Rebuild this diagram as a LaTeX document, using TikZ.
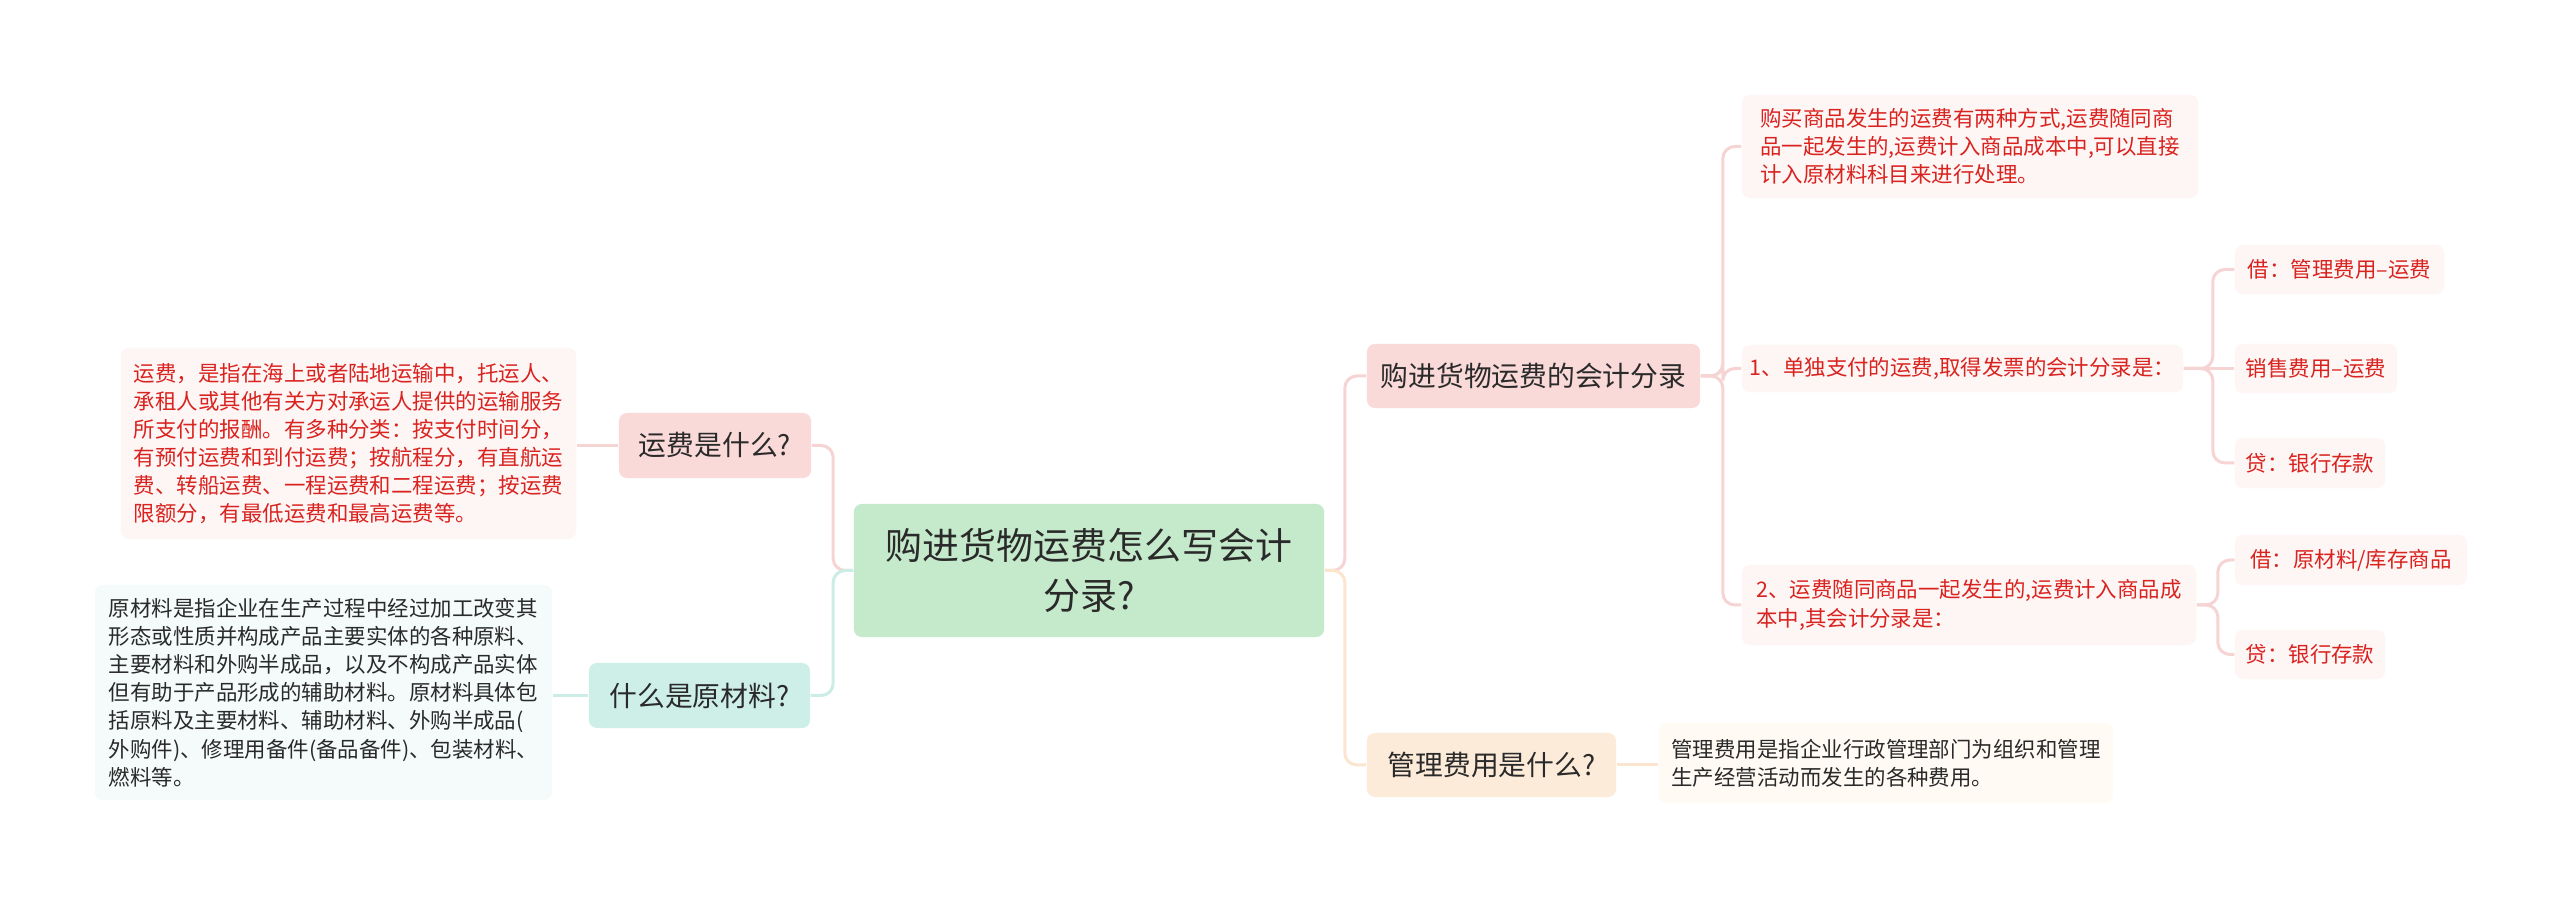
\documentclass[tikz,border=0pt]{standalone}
\usepackage{fontspec}
\setmainfont{Noto Sans CJK SC}
\usepackage{xcolor}
\usetikzlibrary{positioning}
\definecolor{mmroot}{HTML}{C5EACB}
\definecolor{mmpink}{HTML}{FAD9D9}
\definecolor{mmpinklt}{HTML}{FEF5F5}
\definecolor{mmpinkln}{HTML}{F7D4D4}
\definecolor{mmteal}{HTML}{CDEFE8}
\definecolor{mmteallt}{HTML}{F4FBFA}
\definecolor{mmtealln}{HTML}{CBEDE6}
\definecolor{mmpeach}{HTML}{FDEBDA}
\definecolor{mmpeachlt}{HTML}{FFFAF4}
\definecolor{mmpeachln}{HTML}{FCE5CF}
\definecolor{mmred}{HTML}{D9231F}
\definecolor{mmtext}{HTML}{2A2A2A}
\tikzset{
  box/.style     ={rounded corners=0.08cm, inner sep=0pt, text=mmtext},
  rootbox/.style ={box, fill=mmroot, align=center,
                   font=\fontsize{10.5}{14}\selectfont},
  topic/.style   ={box, align=center, font=\fontsize{7.9}{10}\selectfont},
  note/.style    ={box, align=left, font=\fontsize{6.1}{8}\selectfont},
  rednote/.style ={note, fill=mmpinklt, text=mmred},
  link/.style    ={line width=0.03cm, rounded corners=0.12cm},
}

\begin{document}
\begin{tikzpicture}[x=0.01cm, y=-0.01cm]
  \useasboundingbox (0,0) rectangle (2560,898);
  \fill[white] (0,0) rectangle (2560,898);

  % ---- centre ----------------------------------------------------------
  \node[rootbox, minimum width=4.70cm, minimum height=1.33cm] (root)
    at (1089,570.5) {购进货物运费怎么写会计\\分录?};

  % ---- left side -------------------------------------------------------
  \node[topic, fill=mmpink, minimum width=1.92cm, minimum height=0.65cm] (yf)
    at (715,445.5) {运费是什么?};
  \node[rednote, minimum width=4.55cm, minimum height=1.91cm] (yfd)
    at (348.5,443.5)
    {运费，是指在海上或者陆地运输中，托运人、\\
     承租人或其他有关方对承运人提供的运输服务\\
     所支付的报酬。有多种分类：按支付时间分，\\
     有预付运费和到付运费；按航程分，有直航运\\
     费、转船运费、一程运费和二程运费；按运费\\
     限额分，有最低运费和最高运费等。};

  \node[topic, fill=mmteal, minimum width=2.21cm, minimum height=0.65cm] (ycl)
    at (699.5,695.5) {什么是原材料?};
  \node[note, fill=mmteallt, minimum width=4.57cm, minimum height=2.15cm] (ycld)
    at (323.5,692.5)
    {原材料是指企业在生产过程中经过加工改变其\\
     形态或性质并构成产品主要实体的各种原料、\\
     主要材料和外购半成品，以及不构成产品实体\\
     但有助于产品形成的辅助材料。原材料具体包\\
     括原料及主要材料、辅助材料、外购半成品(\\
     外购件)、修理用备件(备品备件)、包装材料、\\
     燃料等。};

  % ---- right side ------------------------------------------------------
  \node[topic, fill=mmpink, minimum width=3.33cm, minimum height=0.64cm] (fl)
    at (1533.5,376) {购进货物运费的会计分录};
  \node[rednote, minimum width=4.56cm, minimum height=1.03cm] (fa)
    at (1970,146.5)
    {购买商品发生的运费有两种方式,运费随同商\\
     品一起发生的,运费计入商品成本中,可以直接\\
     计入原材料科目来进行处理。};
  \node[rednote, minimum width=4.41cm, minimum height=0.47cm] (fb)
    at (1962.5,368.5) {1、单独支付的运费,取得发票的会计分录是：};
  \node[rednote, minimum width=4.54cm, minimum height=0.80cm] (fc)
    at (1969,605)
    {2、运费随同商品一起发生的,运费计入商品成\\
     本中,其会计分录是：};

  \node[rednote, minimum width=2.09cm, minimum height=0.49cm] (jie1)
    at (2339.5,269.5) {借：管理费用–运费};
  \node[rednote, minimum width=1.62cm, minimum height=0.49cm] (xs)
    at (2316,368.5) {销售费用–运费};
  \node[rednote, minimum width=1.50cm, minimum height=0.50cm] (dai1)
    at (2310,463) {贷：银行存款};
  \node[rednote, minimum width=2.32cm, minimum height=0.50cm] (jie2)
    at (2351,560) {借：原材料/库存商品};
  \node[rednote, minimum width=1.50cm, minimum height=0.49cm] (dai2)
    at (2310,654.5) {贷：银行存款};

  \node[topic, fill=mmpeach, minimum width=2.49cm, minimum height=0.64cm] (gl)
    at (1491.5,765) {管理费用是什么?};
  \node[note, fill=mmpeachlt, minimum width=4.54cm, minimum height=0.80cm] (gld)
    at (1886,763)
    {管理费用是指企业行政管理部门为组织和管理\\
     生产经营活动而发生的各种费用。};

  % ---- connectors ------------------------------------------------------
  \draw[link, mmpinkln] (root.west) -- ++(-20,0) |- (yf.east);
  \draw[link, mmtealln] (root.west) -- ++(-20,0) |- (ycl.east);
  \draw[link, mmpinkln] (yf.west) -- (yf.west -| yfd.east);
  \draw[link, mmtealln] (ycl.west) -- (ycl.west -| ycld.east);

  \draw[link, mmpinkln] (root.east) -- ++(20,0) |- (fl.west);
  \draw[link, mmpeachln] (root.east) -- ++(20,0) |- (gl.west);
  \draw[link, mmpeachln] (gl.east) -- (gl.east -| gld.west);

  \foreach \leaf in {fa,fb,fc}
    \draw[link, mmpinkln] (fl.east) -- ++(22,0) |- (\leaf.west);
  \foreach \leaf in {jie1,dai1}
    \draw[link, mmpinkln] (fb.east) -- ++(29,0) |- (\leaf.west);
  \draw[link, mmpinkln] (fb.east) -- (xs.west);
  \foreach \leaf in {jie2,dai2}
    \draw[link, mmpinkln] (fc.east) -- ++(21,0) |- (\leaf.west);
\end{tikzpicture}
\end{document}
